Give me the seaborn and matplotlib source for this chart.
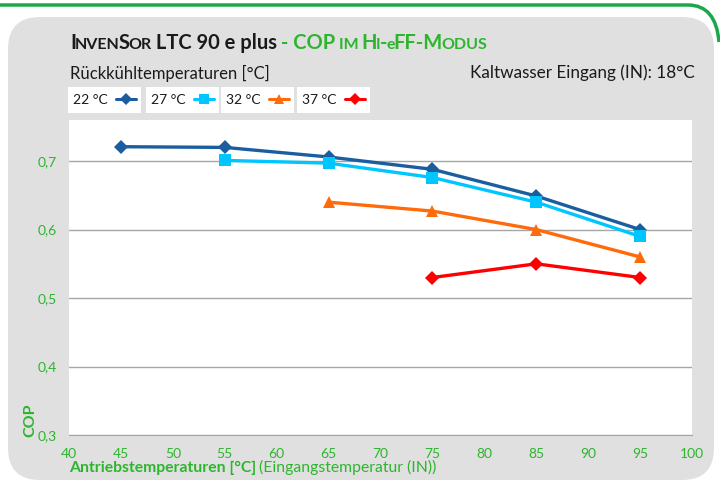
import matplotlib
matplotlib.use("Agg")
import matplotlib.pyplot as plt
import seaborn as sns
import pandas as pd
from matplotlib.patches import FancyBboxPatch, PathPatch, Rectangle
from matplotlib.path import Path
from matplotlib.transforms import IdentityTransform
from matplotlib.lines import Line2D

# Werte
temp_22 = [45, 55, 65, 75, 85, 95]
cop_22 = [0.721, 0.720, 0.706, 0.688, 0.649, 0.600]
temp_27 = [55, 65, 75, 85, 95]
cop_27 = [0.701, 0.697, 0.676, 0.640, 0.590]
temp_32 = [65, 75, 85, 95]
cop_32 = [0.640, 0.627, 0.600, 0.560]
temp_37 = [75, 85, 95]
cop_37 = [0.530, 0.550, 0.530]

serien = ["22 °C", "27 °C", "32 °C", "37 °C"]
farben = {"22 °C": "#1a5ea0", "27 °C": "#00c6ff", "32 °C": "#ff6a0a", "37 °C": "#ff0000"}
marker = {"22 °C": "D", "27 °C": "s", "32 °C": "^", "37 °C": "D"}
marker_groesse = {"22 °C": 7, "27 °C": 8.5, "32 °C": 8.5, "37 °C": 7}

x_ticks = [40, 45, 50, 55, 60, 65, 70, 75, 80, 85, 90, 95, 100]
y_ticks = [0.3, 0.4, 0.5, 0.6, 0.7]

df = pd.concat([
    pd.DataFrame({"temp": temp_22, "cop": cop_22, "serie": "22 °C"}),
    pd.DataFrame({"temp": temp_27, "cop": cop_27, "serie": "27 °C"}),
    pd.DataFrame({"temp": temp_32, "cop": cop_32, "serie": "32 °C"}),
    pd.DataFrame({"temp": temp_37, "cop": cop_37, "serie": "37 °C"}),
])

sns.set_style("white")
plt.rcParams["font.family"] = ["Lato", "DejaVu Sans"]

GRUEN = "#2db52d"
DUNKEL = "#1a1a1a"

fig = plt.figure(figsize=(7.2, 4.82), dpi=100)
fig.patch.set_facecolor("white")

# grauer Hintergrund mit runden Ecken (in Pixeln)
panel = FancyBboxPatch((8, 2), 706, 463, boxstyle="round,pad=0,rounding_size=32",
                       transform=IdentityTransform(), facecolor="#e0e0e0",
                       edgecolor="none", zorder=-2)
fig.patches.append(panel)

# gruene Linie oben
pfad = Path([(-5, 477), (688, 477), (716, 477), (719, 440)],
            [Path.MOVETO, Path.LINETO, Path.CURVE3, Path.CURVE3])
fig.patches.append(PathPatch(pfad, transform=IdentityTransform(), facecolor="none",
                             edgecolor="#1ba84a", linewidth=2.5, zorder=-1))

ax = fig.add_axes([69 / 720, 1 - 435 / 482, 623 / 720, 315 / 482])
ax.set_facecolor("white")

for s in serien:
    d = df[df["serie"] == s]
    sns.lineplot(data=d, x="temp", y="cop", ax=ax, color=farben[s], marker=marker[s],
                 markersize=marker_groesse[s], markeredgewidth=0, linewidth=2.4,
                 legend=False, zorder=3)

ax.set_xlim(40, 100)
ax.set_ylim(0.3, 0.76)
ax.set_xticks(x_ticks)
ax.set_yticks(y_ticks)
ax.set_xticklabels([str(v) for v in x_ticks])
ax.set_yticklabels([f"{v:.1f}".replace(".", ",") for v in y_ticks])
ax.tick_params(axis="both", colors=GRUEN, labelsize=10, length=0)
ax.tick_params(axis="x", pad=9)
ax.tick_params(axis="y", pad=9)
ax.yaxis.grid(True, color="#a6a6a6", linewidth=1)
ax.xaxis.grid(False)
for sp in ["top", "right", "left"]:
    ax.spines[sp].set_visible(False)
ax.spines["bottom"].set_color("#a6a6a6")
ax.set_xlabel("")
ax.set_ylabel("")

# Achsentitel
fig.text(30 / 720, 1 - 420 / 482, "COP", rotation=90, color=GRUEN, fontsize=11.5,
         fontweight="bold", ha="center", va="center")
fig.canvas.draw()
renderer = fig.canvas.get_renderer()


def kette(teile, x0, y0):
    x = x0
    for text, groesse, farbe, gewicht in teile:
        t = fig.text(x, y0, text, transform=IdentityTransform(), fontsize=groesse,
                     color=farbe, fontweight=gewicht, va="baseline", ha="left")
        x = t.get_window_extent(renderer).x1 - 1


kette([("Antriebstemperaturen [°C] ", 11.3, GRUEN, "bold"),
       ("(Eingangstemperatur (IN))", 11.3, GRUEN, "normal")], 69, 482 - 472)

gross, klein = 14.5, 11.5
kette([("I", gross, DUNKEL, "bold"), ("NVEN", klein, DUNKEL, "bold"),
       ("S", gross, DUNKEL, "bold"), ("OR", klein, DUNKEL, "bold"),
       (" LTC 90 e plus", gross, DUNKEL, "bold"),
       (" - COP ", gross, GRUEN, "bold"), ("IM ", klein, GRUEN, "bold"),
       ("H", gross, GRUEN, "bold"), ("I", klein, GRUEN, "bold"),
       ("-", gross, GRUEN, "bold"), ("e", klein, GRUEN, "bold"),
       ("FF-M", gross, GRUEN, "bold"), ("ODUS", klein, GRUEN, "bold")], 70, 482 - 49)

fig.text(70 / 720, 1 - 73 / 482, "Rückkühltemperaturen [°C]", fontsize=12,
         color=DUNKEL, ha="left", va="center")
fig.text(695 / 720, 1 - 73 / 482, "Kaltwasser Eingang (IN): 18°C", fontsize=12.3,
         color=DUNKEL, ha="right", va="center")

# Legende: jede Reihe in einem eigenen weissen Kasten
legend_x = [68, 146, 221, 297]
box_w, box_h = 73, 26
for s, lx in zip(serien, legend_x):
    fig.patches.append(Rectangle((lx, 482 - 87 - box_h), box_w, box_h,
                                 transform=IdentityTransform(), facecolor="white",
                                 edgecolor="none", zorder=-0.5))
    h = Line2D([], [], color=farben[s], marker=marker[s], markersize=marker_groesse[s] - 1,
               markeredgewidth=0, linewidth=2.2)
    leg = fig.legend([h], [s], loc="center",
                     bbox_to_anchor=((lx + box_w / 2) / 720, (482 - 87 - box_h / 2) / 482),
                     markerfirst=False, frameon=False, handlelength=1.5,
                     handletextpad=0.6, borderpad=0, borderaxespad=0, fontsize=10)
    for t in leg.get_texts():
        t.set_color(DUNKEL)

plt.savefig("out.png", dpi=100, facecolor=fig.get_facecolor())
plt.close()
